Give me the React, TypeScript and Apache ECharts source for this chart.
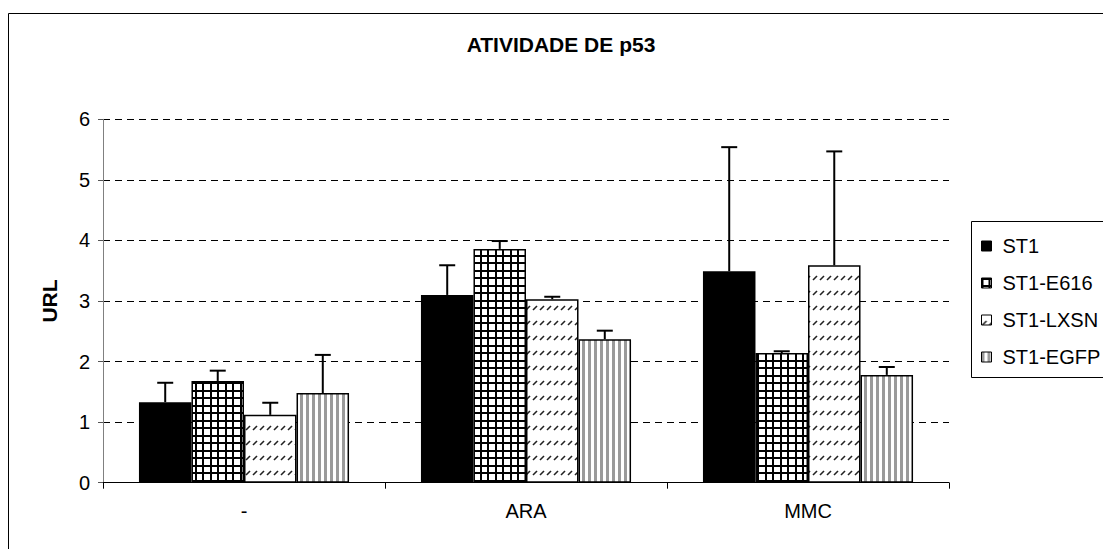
import React, { useEffect, useRef } from 'react';
import * as echarts from 'echarts';

const categories = ['-', 'ARA', 'MMC'];
const seriesNames = ['ST1', 'ST1-E616', 'ST1-LXSN', 'ST1-EGFP'];
const st1 = [1.33, 3.1, 3.49];
const st1Err = [0.32, 0.49, 2.05];
const e616 = [1.68, 3.86, 2.14];
const e616Err = [0.17, 0.13, 0.03];
const lxsn = [1.12, 3.03, 3.59];
const lxsnErr = [0.2, 0.04, 1.88];
const egfp = [1.48, 2.37, 1.78];
const egfpErr = [0.63, 0.14, 0.13];
const yMin = 0;
const yMax = 6;
const yStep = 1;
const titleText = 'ATIVIDADE DE p53';
const yName = 'URL';

const GAP = 0.255;
const FONT = '"Liberation Sans", Arial, Helvetica, sans-serif';

function tile(w: number, h: number, draw: (ctx: CanvasRenderingContext2D) => void) {
  const c = document.createElement('canvas');
  c.width = w;
  c.height = h;
  const ctx = c.getContext('2d') as CanvasRenderingContext2D;
  draw(ctx);
  return { image: c, repeat: 'repeat', imageWidth: w, imageHeight: h } as any;
}

export default function App() {
  const ref = useRef<HTMLDivElement>(null);
  useEffect(() => {
    if (!ref.current) return;
    const chart = echarts.init(ref.current, undefined, { renderer: 'svg' });

    const gridPat = tile(15, 15, (ctx) => {
      ctx.fillStyle = '#fff';
      ctx.fillRect(0, 0, 15, 15);
      ctx.fillStyle = '#000';
      ctx.fillRect(0, 0, 2, 15);
      ctx.fillRect(7, 0, 2, 15);
      ctx.fillRect(0, 0, 15, 2);
      ctx.fillRect(0, 7, 15, 2);
    });
    const dashPat = tile(7, 15, (ctx) => {
      ctx.fillStyle = '#fff';
      ctx.fillRect(0, 0, 7, 15);
      ctx.strokeStyle = '#222';
      ctx.lineWidth = 1.6;
      ctx.beginPath();
      ctx.moveTo(1, 10);
      ctx.lineTo(5, 6);
      ctx.stroke();
    });
    const stripePat = tile(6, 6, (ctx) => {
      ctx.fillStyle = '#fff';
      ctx.fillRect(0, 0, 6, 6);
      ctx.fillStyle = '#9a9a9a';
      ctx.fillRect(0, 0, 3, 6);
    });

    const values = [st1, e616, lxsn, egfp];
    const errs = [st1Err, e616Err, lxsnErr, egfpErr];
    const fills: any[] = ['#000', gridPat, dashPat, stripePat];

    const barSeries = seriesNames.map((name, i) => ({
      name,
      type: 'bar',
      data: values[i],
      barGap: '0%',
      barCategoryGap: GAP * 100 + '%',
      itemStyle: { color: fills[i], borderColor: '#000', borderWidth: 1.5 },
      emphasis: { disabled: true },
      z: 2,
    }));

    const errData: number[][] = [];
    values.forEach((arr, si) => {
      arr.forEach((v, ci) => {
        errData.push([ci, si, v, errs[si][ci]]);
      });
    });

    const option: any = {
      animation: false,
      backgroundColor: '#fff',
      graphic: [
        {
          type: 'rect',
          shape: { x: 8.5, y: 13.5, width: 1200, height: 700 },
          style: { fill: 'none', stroke: '#000', lineWidth: 1 },
          silent: true,
          z: -1,
        },
        {
          type: 'rect',
          shape: { x: 971.5, y: 221.5, width: 140, height: 156 },
          style: { fill: '#fff', stroke: '#000', lineWidth: 1 },
          silent: true,
          z: 0,
        },
        {
          type: 'text',
          x: 561,
          y: 44,
          style: {
            text: titleText,
            fill: '#000',
            font: 'bold 21px ' + FONT,
            textAlign: 'center',
            textVerticalAlign: 'middle',
          },
        },
      ],
      legend: {
        orient: 'vertical',
        left: 976,
        top: 231,
        itemWidth: 10,
        itemHeight: 10,
        itemGap: 17,
        icon: 'rect',
        selectedMode: false,
        data: seriesNames,
        itemStyle: { borderWidth: 1 },
        textStyle: { color: '#000', fontSize: 20, fontFamily: FONT, padding: [0, 0, 0, 6] },
        z: 5,
      },
      grid: { left: 103, top: 119.3, width: 846, height: 363.4, containLabel: false },
      xAxis: {
        type: 'category',
        data: categories,
        axisLine: { lineStyle: { color: '#000', width: 1 } },
        axisTick: { show: true, length: 6, lineStyle: { color: '#000' } },
        axisLabel: { color: '#000', fontSize: 20, fontFamily: FONT, margin: 18 },
        splitLine: { show: false },
      },
      yAxis: {
        type: 'value',
        min: yMin,
        max: yMax,
        interval: yStep,
        name: yName,
        nameLocation: 'middle',
        nameRotate: 90,
        nameGap: 43,
        nameTextStyle: { color: '#000', fontSize: 21, fontWeight: 'bold', fontFamily: FONT },
        axisLine: { show: true, lineStyle: { color: '#808080', width: 1 } },
        axisTick: { show: true, length: 5, lineStyle: { color: '#555' } },
        axisLabel: { color: '#000', fontSize: 20, fontFamily: FONT, margin: 13 },
        splitLine: { show: true, lineStyle: { color: '#000', type: [7, 5], width: 1 } },
      },
      series: [
        ...barSeries,
        {
          type: 'custom',
          name: 'err',
          data: errData,
          encode: { x: 0, y: 2 },
          z: 3,
          silent: true,
          renderItem: (params: any, api: any) => {
            const ci = api.value(0);
            const si = api.value(1);
            const v = api.value(2);
            const e = api.value(3);
            const band = api.size([1, 0])[0];
            const barW = (band * (1 - GAP)) / 4;
            const base = api.coord([ci, v]);
            const top = api.coord([ci, v + e]);
            const x = base[0] + (si - 1.5) * barW;
            return {
              type: 'group',
              children: [
                { type: 'line', shape: { x1: x, y1: base[1], x2: x, y2: top[1] }, style: { stroke: '#000', lineWidth: 2 } },
                { type: 'line', shape: { x1: x - 8, y1: top[1], x2: x + 8, y2: top[1] }, style: { stroke: '#000', lineWidth: 2 } },
              ],
            };
          },
        },
      ],
    };
    chart.setOption(option);
    return () => chart.dispose();
  }, []);
  return (
    <div
      ref={ref}
      style={{ position: 'absolute', left: 0, top: 0, width: 1103, height: 549, background: '#fff' }}
    />
  );
}
